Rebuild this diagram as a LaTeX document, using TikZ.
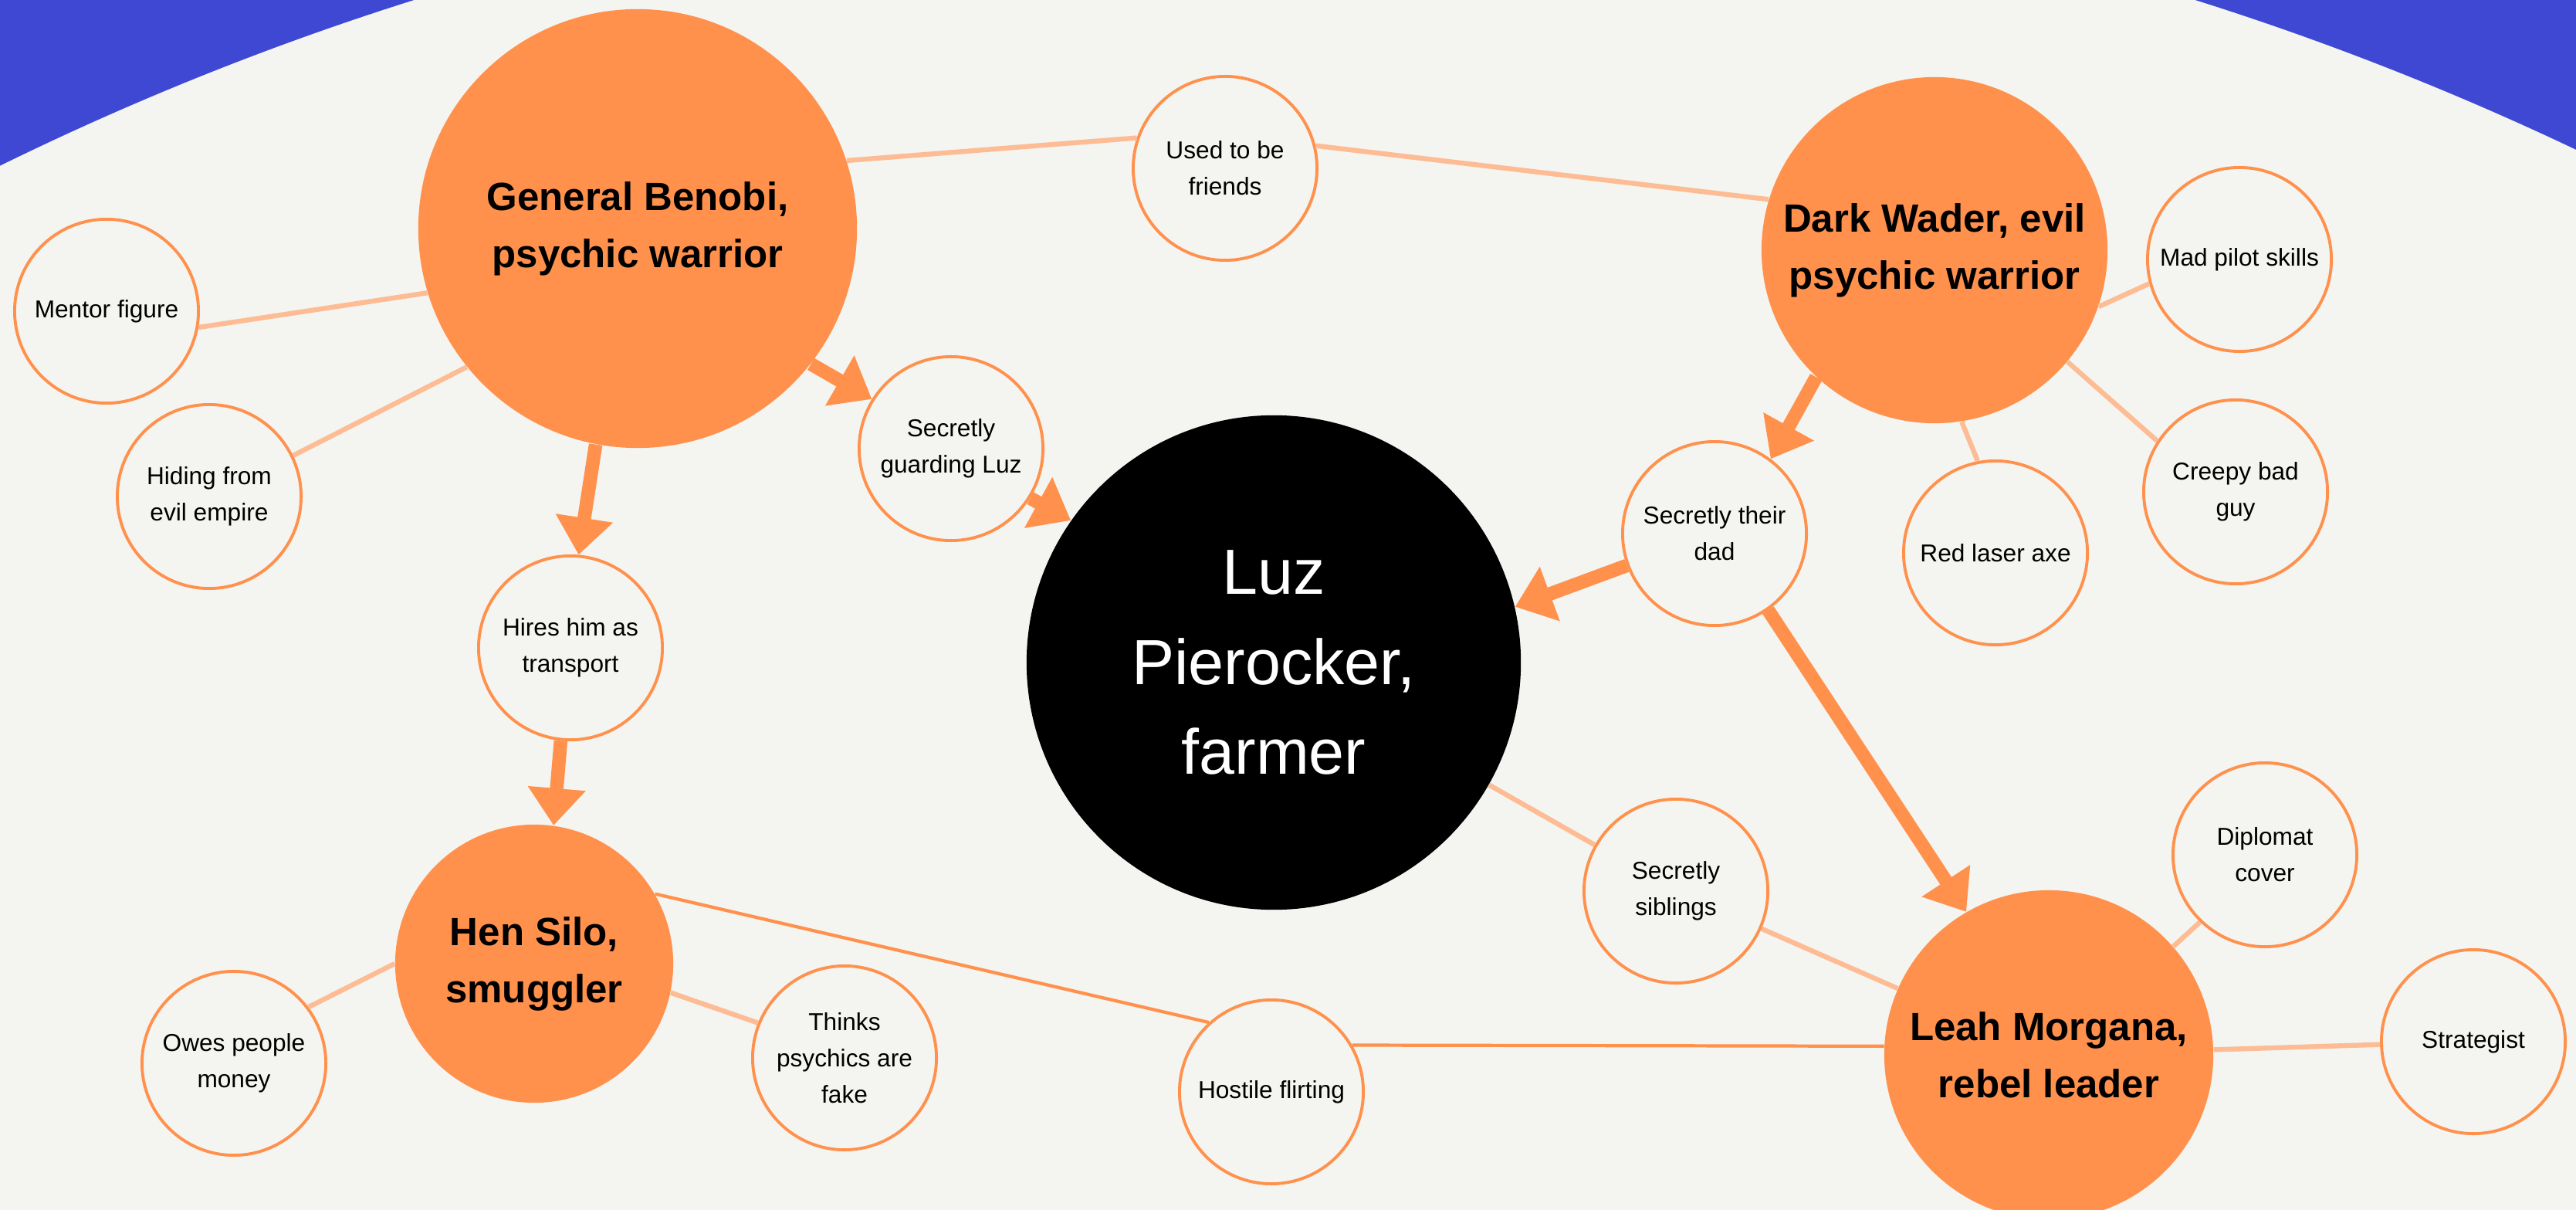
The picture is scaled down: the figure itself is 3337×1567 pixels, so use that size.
\documentclass[tikz,border=0pt]{standalone}
\usepackage{fontspec}
\setmainfont{Liberation Sans}
\usetikzlibrary{arrows.meta}
\definecolor{paper}{HTML}{F4F4F0}
\definecolor{band}{HTML}{3E48D3}
\definecolor{tang}{HTML}{FF914D}
\definecolor{pale}{HTML}{FDBC94}
\tikzstyle{hub}=[shape=circle, fill=tang, inner sep=0pt, align=center, font=\fontsize{14.5}{21}\selectfont\bfseries]
\tikzstyle{note}=[shape=circle, draw=tang, fill=paper, line width=1.1pt, minimum size=2.38cm, inner sep=0pt, align=center, font=\fontsize{9}{13.3}\selectfont]
\tikzstyle{edge}=[draw=pale, line width=1.8pt]
\tikzstyle{link}=[draw=tang, line width=1.2pt]
\tikzstyle{arrow}=[draw=tang, line width=5pt, -{Triangle[width=7.2mm,length=4.8mm]}]

\begin{document}
\begin{tikzpicture}[x=0.01cm, y=-0.01cm]
            \useasboundingbox (0,0) rectangle (3337,1567);
            \clip (0,0) rectangle (3337,1567);
            \fill[band] (0,0) rectangle (3337,1567);
            \fill[paper] (1690,3663) circle [radius=38.37cm];

            \node[hub, minimum size=5.68cm] (benobi) at (826,296) {General Benobi,\\psychic warrior};
            \node[hub, minimum size=4.48cm] (wader) at (2506,324) {Dark Wader, evil\\psychic warrior};
            \node[hub, minimum size=3.6cm] (hen) at (692,1248) {Hen Silo,\\smuggler};
            \node[hub, minimum size=4.26cm] (leah) at (2654,1366) {Leah Morgana,\\rebel leader};
            \node[shape=circle, fill=black, text=white, inner sep=0pt, minimum size=6.4cm, align=center, font=\fontsize{23.5}{33}\selectfont] (luz) at (1650,858) {Luz\\Pierocker,\\farmer};

            \node[note] (friends) at (1587,218) {Used to be\\friends};
            \node[note] (pilot) at (2901,336) {Mad pilot skills};
            \node[note] (mentor) at (138,403) {Mentor figure};
            \node[note] (hiding) at (271,643) {Hiding from\\evil empire};
            \node[note] (guard) at (1232,581) {Secretly\\guarding Luz};
            \node[note] (dad) at (2221,691) {Secretly their\\dad};
            \node[note] (laser) at (2585,716) {Red laser axe};
            \node[note] (creepy) at (2896,637) {Creepy bad\\guy};
            \node[note] (hires) at (739,839) {Hires him as\\transport};
            \node[note] (thinks) at (1094,1370) {Thinks\\psychics are\\fake};
            \node[note] (owes) at (303,1377) {Owes people\\money};
            \node[note] (hostile) at (1647,1414) {Hostile flirting};
            \node[note] (siblings) at (2171,1154) {Secretly\\siblings};
            \node[note] (diplomat) at (2934,1107) {Diplomat\\cover};
            \node[note] (strategist) at (3204,1349) {Strategist};

            \draw[edge] (mentor.-10) -- (benobi.197);
            \draw[edge] (hiding.26) -- (benobi.219);
            \draw[edge] (benobi.18) -- (friends.161);
            \draw[edge] (friends.14) -- (wader.163);
            \draw[edge] (wader.-19) -- (pilot.195);
            \draw[edge] (wader.-81) -- (laser.101);
            \draw[edge] (wader.-40) -- (creepy.147);
            \draw[edge] (luz) -- (siblings);
            \draw[edge] (siblings) -- (leah);
            \draw[edge] (leah.41) -- (diplomat.226);
            \draw[edge] (leah) -- (strategist);
            \draw[edge] (owes.37) -- (hen.180);
            \draw[edge] (hen.-12) -- (thinks.158);
            \draw[link] (hen.30) -- (hostile.132);
            \draw[link] (hostile.30) -- (leah.177);

            \draw[arrow] (benobi.-38) -- (guard.148);
            \draw[arrow] (guard.-32) -- (luz.145);
            \draw[arrow] (benobi.-101) -- (hires.85);
            \draw[arrow] (hires.-96) -- (hen.82);
            \draw[arrow] (wader.227) -- (dad.53);
            \draw[arrow] (dad.200) -- (luz.13);
            \draw[arrow] (dad.-55) -- (leah.120);
        \end{tikzpicture}
\end{document}
